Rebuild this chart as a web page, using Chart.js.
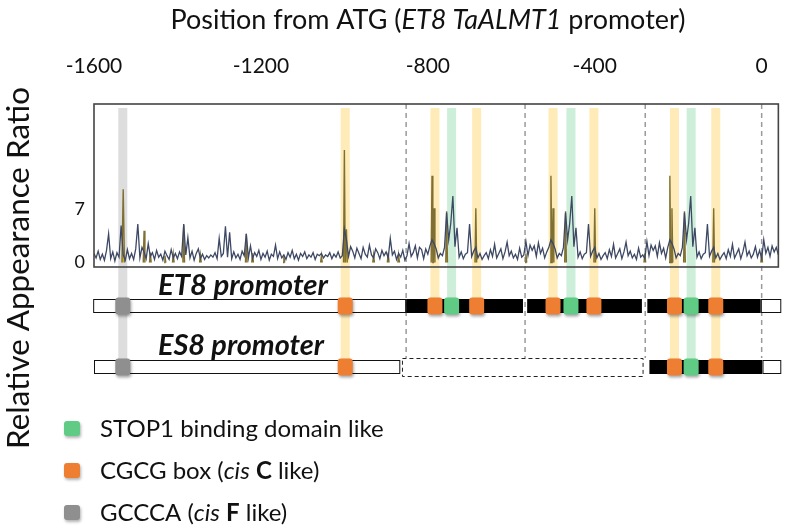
<!DOCTYPE html>
<html>
<head>
<meta charset="utf-8">
<script src="https://cdn.jsdelivr.net/npm/chart.js@4.4.1/dist/chart.umd.min.js"></script>
<style>
  html, body { margin: 0; padding: 0; background: #fff; }
  #wrap { width: 793px; height: 532px; position: relative; }
</style>
</head>
<body>
<div id="wrap"><canvas id="chart" width="793" height="532"></canvas></div>
<script>
// axis ticks
const xTicks = [-1600, -1200, -800, -400, 0];
const yTicks = [0, 7];

// relative appearance ratio, one value every 5 bp starting at -1600
const ratioStart = -1600;
const ratioStep = 5;
const ratioValues = [
  1.2, 0.6, 1.5, 0.4, 1.1, 0.3, 1.6, 3.8, 0.5, 1.4, 0.2, 1.3, 0.7, 4.9, 1.0, 0.3, 1.7, 0.5, 1.2, 0.4,
  1.8, 5.1, 0.6, 2.0, 1.4, 0.5, 2.5, 0.8, 1.3, 0.4, 1.6, 0.7, 1.1, 0.3, 1.5, 0.9, 0.4, 1.7, 0.6, 1.2,
  0.5, 1.4, 0.8, 5.1, 1.0, 3.3, 0.6, 1.5, 0.3, 1.2, 1.8, 0.5, 1.1, 0.4, 0.9, 0.6, 1.0, 0.7, 1.3, 0.5,
  3.2, 0.8, 1.2, 4.8, 0.7, 4.0, 0.5, 1.4, 0.6, 1.1, 0.4, 1.5, 0.9, 3.8, 0.6, 2.2, 0.5, 1.3, 0.8, 1.6,
  0.4, 1.2, 0.7, 1.5, 0.3, 1.1, 0.8, 2.3, 0.5, 1.4, 0.6, 1.0, 0.4, 1.3, 0.7, 1.6, 0.5, 1.1, 0.3, 1.2,
  0.8, 1.4, 0.5, 1.0, 0.7, 1.3, 0.4, 1.1, 0.9, 1.2, 0.6, 1.0, 0.8, 1.3, 0.5, 1.1, 0.7, 1.4, 0.6, 0.9,
  4.4, 3.0, 0.8, 2.1, 1.5, 0.6, 1.9, 1.2, 0.5, 2.0, 1.1, 0.7, 2.3, 1.0, 0.6, 1.8, 1.3, 0.5, 1.6, 0.9,
  1.4, 0.6, 3.2, 1.0, 1.5, 0.4, 1.2, 0.7, 1.6, 0.3, 0.9, 2.5, 0.8, 1.3, 2.2, 0.6, 2.0, 1.7, 0.5, 1.8,
  1.1, 2.2, 3.0, 2.5, 1.8, 0.6, 1.2, 0.9, 2.0, 6.6, 3.0, 5.2, 8.8, 2.1, 4.6, 0.7, 1.4, 0.5, 1.1, 1.3,
  5.1, 0.8, 1.5, 2.0, 0.6, 1.2, 0.4, 0.9, 1.3, 0.5, 1.7, 0.8, 2.4, 0.6, 1.2, 1.8, 0.5, 1.4, 2.7, 0.9,
  1.5, 0.6, 1.1, 0.4, 1.9, 0.7, 1.0, 2.8, 0.9, 2.3, 1.6, 2.2, 0.8, 2.6, 1.2, 1.9, 0.6, 1.4, 2.0, 3.0,
  2.5, 1.8, 0.6, 1.2, 0.9, 2.0, 6.6, 3.0, 5.2, 8.8, 2.1, 4.6, 0.7, 1.4, 0.5, 1.1, 1.3, 5.1, 0.8, 1.5,
  2.0, 0.6, 1.2, 0.4, 0.9, 1.3, 0.5, 1.7, 0.8, 2.4, 0.6, 1.2, 1.8, 0.5, 1.4, 2.7, 0.9, 1.5, 0.6, 1.1,
  0.4, 1.9, 0.7, 1.0, 0.5, 2.8, 0.9, 2.3, 1.6, 2.2, 0.8, 2.6, 1.2, 1.9, 0.6, 2.0, 3.0, 2.5, 1.8, 0.6,
  1.2, 0.9, 2.0, 6.6, 3.0, 5.2, 8.8, 2.1, 4.6, 0.7, 1.4, 0.5, 1.1, 1.3, 5.1, 0.8, 1.5, 2.0, 0.6, 1.2,
  0.4, 0.9, 1.3, 0.5, 1.7, 0.8, 2.4, 0.6, 1.2, 1.8, 0.5, 1.4, 2.7, 0.9, 1.5, 0.6, 1.1, 2.1, 0.7, 1.6,
  0.5, 3.0, 1.2, 2.0, 0.8, 2.2, 1.4, 2.0, 1.0
];

// motif hits (gold trace); null breaks the trace between hits
const hitPos = [
  -1533, -1530, -1527, -1520,
  -1482, -1480, -1478, -1475, -1467, -1465, -1463, -1450,
  -1432, -1430, -1428, -1420, -1412, -1410, -1408, -1400,
  -1387, -1385, -1383, -1365, -1347, -1345, -1343, -1300,
  -1237, -1235, -1233, -1227, -1222, -1220, -1218, -1180,
  -1147, -1145, -1143, -1100, -1057, -1055, -1053, -1020,
  -1002, -1000, -998, -997, -995, -993, -990, -960, -932, -930, -928, -910,
  -897, -895, -893, -880, -872, -870, -868, -830,
  -792, -790, -788, -787, -785, -783, -780, -770, -757, -755, -753, -720,
  -687, -685, -683, -600, -567, -565, -563, -530,
  -507, -505, -503, -502, -500, -498, -495, -485, -472, -470, -468, -430,
  -402, -400, -398, -300, -282, -280, -278, -250,
  -222, -220, -218, -217, -215, -213, -210, -200, -187, -185, -183, -150,
  -117, -115, -113, -50, -2, 0, 2
];
const hitVal = [
  0, 9.7, 0, null,
  0, 4.2, 0, null, 0, 1.3, 0, null,
  0, 0.9, 0, null, 0, 1.1, 0, null,
  0, 5.0, 0, null, 0, 1.0, 0, null,
  0, 3.8, 0, null, 0, 1.2, 0, null,
  0, 0.8, 0, null, 0, 0.9, 0, null,
  0, 14.9, 0, 0, 4.4, 0, null, null, 0, 1.0, 0, null,
  0, 1.3, 0, null, 0, 1.0, 0, null,
  0, 11.5, 0, 0, 7.2, 0, null, null, 0, 6.8, 0, null,
  0, 7.2, 0, null, 0, 1.2, 0, null,
  0, 11.5, 0, 0, 7.2, 0, null, null, 0, 6.8, 0, null,
  0, 7.2, 0, null, 0, 1.2, 0, null,
  0, 11.5, 0, 0, 7.2, 0, null, null, 0, 6.8, 0, null,
  0, 7.2, 0, null, 0, 1.3, 0
];

// motif sites (bp from ATG)
const stop1Sites = [-743, -457, -169];
const cgcgSites = [-998, -783, -683, -500, -402, -209, -110];
const gcccaSites = [-1531];

// repeat boundaries (dashed lines)
const repeatBounds = [-852, -567, -279, 0];

// promoter structure: [from, to, kind]
const et8Segments = [[-1602, -852, 'plain'], [-852, -572, 'repeat'], [-562, -287, 'repeat'], [-274, -2, 'repeat'], [-2, 47, 'plain']];
const es8Segments = [[-1600, -866, 'plain'], [-862, -283, 'deleted'], [-269, 2, 'repeat'], [2, 47, 'plain']];
const es8Deletion = [-866, -269];

const FONT = 'Lato, "Open Sans", sans-serif';
const COL = {
  line: '#3d4864',
  hitLine: '#7f6f33',
  hitFill: '#eabf2e',
  green: '#5fcb85', orange: '#ee7e32', gray: '#8f8f8f',
  bandGreen: '#cdeed9', bandYellow: '#feebb7', bandGray: '#dddddd'
};
const ET8_Y = 306, ES8_Y = 367;

const ratioData = ratioValues.map((v, i) => ({ x: ratioStart + i * ratioStep, y: v }));
const hitData = hitPos.map((p, i) => ({ x: p, y: hitVal[i] }));

function inES8(bp) {
  return bp < es8Deletion[0] || bp > es8Deletion[1];
}

// texte en plusieurs styles sur une ligne
function richWidth(ctx, parts, size) {
  let w = 0;
  parts.forEach(p => {
    ctx.font = (p.s || '') + ' ' + size + 'px ' + FONT;
    w += ctx.measureText(p.t).width;
  });
  return w;
}
function drawRich(ctx, parts, x, y, size, align) {
  const w = richWidth(ctx, parts, size);
  let cx = align === 'center' ? x - w / 2 : x;
  ctx.textAlign = 'left';
  parts.forEach(p => {
    ctx.font = (p.s || '') + ' ' + size + 'px ' + FONT;
    ctx.fillText(p.t, cx, y);
    cx += ctx.measureText(p.t).width;
  });
}
function fitSize(ctx, parts, width) {
  return 100 * width / richWidth(ctx, parts, 100);
}

function marker(ctx, x, y, color) {
  const w = 15, h = 17;
  ctx.save();
  ctx.shadowColor = 'rgba(0,0,0,0.35)';
  ctx.shadowBlur = 3;
  ctx.shadowOffsetX = 1;
  ctx.shadowOffsetY = 2;
  ctx.fillStyle = color;
  ctx.beginPath();
  ctx.roundRect(x - w / 2, y - h / 2, w, h, 3);
  ctx.fill();
  ctx.restore();
}

const promoterPlugin = {
  id: 'promoter',
  beforeDatasetsDraw(chart) {
    const { ctx, chartArea: a, scales: { x } } = chart;
    ctx.save();
    // bandes verticales des motifs
    const bands = [];
    gcccaSites.forEach(s => bands.push([s, COL.bandGray]));
    cgcgSites.forEach(s => bands.push([s, COL.bandYellow]));
    stop1Sites.forEach(s => bands.push([s, COL.bandGreen]));
    bands.forEach(([s, c]) => {
      const px = x.getPixelForValue(s);
      const bottom = inES8(s) ? ES8_Y : ET8_Y;
      ctx.fillStyle = c;
      ctx.fillRect(px - 4.5, a.top + 4, 9, bottom - a.top - 4);
    });
    // limites des répétitions
    ctx.strokeStyle = '#9a9a9a';
    ctx.lineWidth = 1.5;
    ctx.setLineDash([5, 4]);
    repeatBounds.forEach(b => {
      const px = x.getPixelForValue(b);
      ctx.beginPath();
      ctx.moveTo(px, a.top);
      ctx.lineTo(px, 358);
      ctx.stroke();
    });
    ctx.restore();
  },
  afterDatasetsDraw(chart) {
    const { ctx, chartArea: a, scales: { x } } = chart;
    ctx.save();
    // cadre
    ctx.strokeStyle = '#444';
    ctx.lineWidth = 1.6;
    ctx.strokeRect(a.left, a.top, a.right - a.left, a.bottom - a.top);

    // barres des promoteurs
    function drawSegments(segs, cy) {
      segs.forEach(([f, t, kind]) => {
        const x0 = x.getPixelForValue(f), x1 = x.getPixelForValue(t);
        if (kind === 'repeat') {
          ctx.fillStyle = '#000';
          ctx.fillRect(x0, cy - 7, x1 - x0, 14);
        } else if (kind === 'plain') {
          ctx.fillStyle = '#fff';
          ctx.fillRect(x0, cy - 7, x1 - x0, 14);
          ctx.strokeStyle = '#111';
          ctx.lineWidth = 1;
          ctx.setLineDash([]);
          ctx.strokeRect(x0 + 0.5, cy - 6.5, x1 - x0 - 1, 13);
        } else {
          ctx.strokeStyle = '#222';
          ctx.lineWidth = 1;
          ctx.setLineDash([4, 3]);
          ctx.strokeRect(x0 + 0.5, cy - 8.5, x1 - x0 - 1, 18);
          ctx.setLineDash([]);
        }
      });
    }
    drawSegments(et8Segments, ET8_Y);
    drawSegments(es8Segments, ES8_Y);

    // motifs
    const sites = [];
    gcccaSites.forEach(s => sites.push([s, COL.gray]));
    cgcgSites.forEach(s => sites.push([s, COL.orange]));
    stop1Sites.forEach(s => sites.push([s, COL.green]));
    sites.forEach(([s, c]) => {
      const px = x.getPixelForValue(s);
      marker(ctx, px, ET8_Y, c);
      if (inES8(s)) marker(ctx, px, ES8_Y, c);
    });

    // étiquettes
    ctx.fillStyle = '#111';
    ctx.textBaseline = 'alphabetic';
    const et8 = [{ t: 'ET8 promoter', s: 'italic bold' }];
    const es8 = [{ t: 'ES8 promoter', s: 'italic bold' }];
    drawRich(ctx, et8, 243, 295, fitSize(ctx, et8, 170), 'center');
    drawRich(ctx, es8, 241, 355, fitSize(ctx, es8, 166), 'center');

    // titre
    ctx.textBaseline = 'middle';
    const title = [{ t: 'Position from ATG (' }, { t: 'ET8 TaALMT1', s: 'italic' }, { t: ' promoter)' }];
    drawRich(ctx, title, 428, 20, fitSize(ctx, title, 515), 'center');

    // titre de l'axe y
    const yTitle = [{ t: 'Relative Appearance Ratio' }];
    ctx.save();
    ctx.translate(19, 268);
    ctx.rotate(-Math.PI / 2);
    drawRich(ctx, yTitle, 0, 0, fitSize(ctx, yTitle, 362), 'center');
    ctx.restore();

    // légende
    const legend = [
      [COL.green, [{ t: 'STOP1 binding domain like' }], 429],
      [COL.orange, [{ t: 'CGCG box (' }, { t: 'cis', s: 'italic' }, { t: ' ' }, { t: 'C', s: 'bold' }, { t: ' like)' }], 471],
      [COL.gray, [{ t: 'GCCCA (' }, { t: 'cis', s: 'italic' }, { t: ' ' }, { t: 'F', s: 'bold' }, { t: ' like)' }], 513]
    ];
    const lsize = fitSize(ctx, legend[0][1], 284);
    legend.forEach(([c, parts, y]) => {
      ctx.save();
      ctx.shadowColor = 'rgba(0,0,0,0.3)';
      ctx.shadowBlur = 3;
      ctx.shadowOffsetX = 1;
      ctx.shadowOffsetY = 2;
      ctx.fillStyle = c;
      ctx.beginPath();
      ctx.roundRect(64, y - 8, 16, 15, 3);
      ctx.fill();
      ctx.restore();
      ctx.fillStyle = '#111';
      ctx.textBaseline = 'middle';
      drawRich(ctx, parts, 100, y, lsize, 'left');
    });
    ctx.restore();
  }
};

Chart.defaults.font.family = FONT;
Chart.defaults.color = '#111';

new Chart(document.getElementById('chart'), {
  type: 'line',
  data: {
    datasets: [
      {
        label: 'ratio',
        data: ratioData,
        borderColor: COL.line,
        borderWidth: 1.3,
        pointRadius: 0,
        tension: 0,
        order: 0
      },
      {
        label: 'motif hits',
        data: hitData,
        borderColor: COL.hitLine,
        backgroundColor: COL.hitFill,
        borderWidth: 1.4,
        pointRadius: 0,
        tension: 0,
        fill: 'origin',
        spanGaps: false,
        order: 1
      }
    ]
  },
  options: {
    responsive: false,
    animation: false,
    layout: { padding: { left: 0, right: 10, top: 0, bottom: 265 } },
    plugins: { legend: { display: false }, tooltip: { enabled: false } },
    scales: {
      x: {
        type: 'linear',
        position: 'top',
        min: -1600,
        max: 40,
        grid: { display: false, drawTicks: false },
        border: { display: false },
        afterBuildTicks: s => { s.ticks = xTicks.map(v => ({ value: v })); },
        afterFit: s => { s.height = 104; },
        ticks: { font: { size: 21 }, padding: 25, maxRotation: 0, autoSkip: false, callback: v => String(v) }
      },
      y: {
        type: 'linear',
        min: -0.6,
        max: 21,
        grid: { display: false, drawTicks: false },
        border: { display: false },
        afterBuildTicks: s => { s.ticks = yTicks.map(v => ({ value: v })); },
        afterFit: s => { s.width = 94; },
        ticks: { font: { size: 18 }, padding: 9 }
      }
    }
  },
  plugins: [promoterPlugin]
});
</script>
</body>
</html>
